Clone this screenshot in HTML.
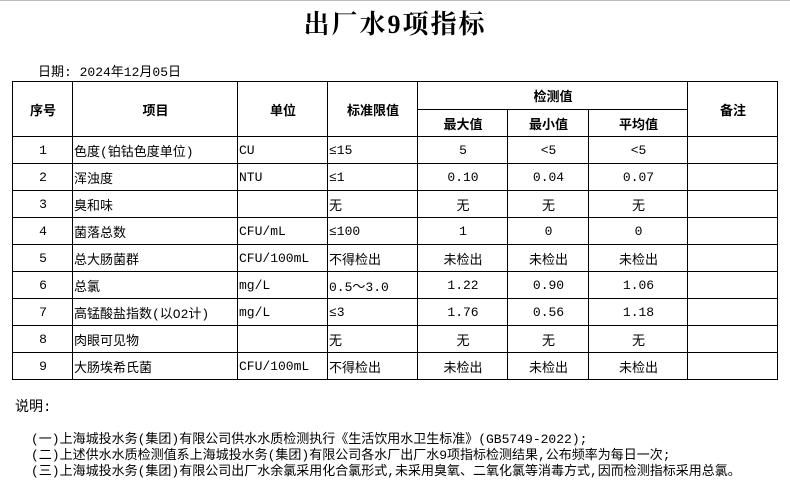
<!DOCTYPE html>
<html><head><meta charset="utf-8"><style>
body{margin:0;width:790px;height:485px;background:#fff;position:relative;overflow:hidden;font-family:"Liberation Mono","Noto Sans CJK SC",monospace;color:#000;}
.top{position:absolute;left:0;top:0;width:790px;height:1px;background:#bbb}
.title{position:absolute;left:0;width:790px;top:4px;text-align:center;font-family:"Liberation Serif","Noto Serif CJK SC",serif;font-size:26px;font-weight:bold;letter-spacing:2px}
.date{position:absolute;left:38px;top:61px;font-size:13px}
table{position:absolute;left:12px;top:81px;border-collapse:collapse;table-layout:fixed;font-size:13px}
td{border:1px solid #000;padding:0 0 0 1px;height:26px;text-align:center;white-space:nowrap;overflow:hidden}
td.l{text-align:left}
tr.h td{font-weight:bold;font-size:13px}
.note{position:absolute;font-size:13px;white-space:nowrap}
</style></head><body>
<div class="top"></div>
<div class="title">出厂水9项指标</div>
<div class="date">日期: 2024年12月05日</div>
<table>
<colgroup><col style="width:60px"><col style="width:165px"><col style="width:90px"><col style="width:90px"><col style="width:90px"><col style="width:81px"><col style="width:99px"><col style="width:90px"></colgroup>
<tr class="h"><td rowspan="2" style="height:53px">序号</td><td rowspan="2">项目</td><td rowspan="2">单位</td><td rowspan="2">标准限值</td><td colspan="3" style="height:27px">检测值</td><td rowspan="2">备注</td></tr>
<tr class="h"><td style="height:25px">最大值</td><td>最小值</td><td>平均值</td></tr>
<tr><td>1</td><td class="l">色度(铂钴色度单位)</td><td class="l">CU</td><td class="l">≤15</td><td>5</td><td>&lt;5</td><td>&lt;5</td><td></td></tr>
<tr><td>2</td><td class="l">浑浊度</td><td class="l">NTU</td><td class="l">≤1</td><td>0.10</td><td>0.04</td><td>0.07</td><td></td></tr>
<tr><td>3</td><td class="l">臭和味</td><td class="l"></td><td class="l">无</td><td>无</td><td>无</td><td>无</td><td></td></tr>
<tr><td>4</td><td class="l">菌落总数</td><td class="l">CFU/mL</td><td class="l">≤100</td><td>1</td><td>0</td><td>0</td><td></td></tr>
<tr><td>5</td><td class="l">总大肠菌群</td><td class="l">CFU/100mL</td><td class="l">不得检出</td><td>未检出</td><td>未检出</td><td>未检出</td><td></td></tr>
<tr><td>6</td><td class="l">总氯</td><td class="l">mg/L</td><td class="l">0.5～3.0</td><td>1.22</td><td>0.90</td><td>1.06</td><td></td></tr>
<tr><td>7</td><td class="l">高锰酸盐指数(以O2计)</td><td class="l">mg/L</td><td class="l">≤3</td><td>1.76</td><td>0.56</td><td>1.18</td><td></td></tr>
<tr><td>8</td><td class="l">肉眼可见物</td><td class="l"></td><td class="l">无</td><td>无</td><td>无</td><td>无</td><td></td></tr>
<tr><td>9</td><td class="l">大肠埃希氏菌</td><td class="l">CFU/100mL</td><td class="l">不得检出</td><td>未检出</td><td>未检出</td><td>未检出</td><td></td></tr>
</table>
<div class="note" style="left:15px;top:396px;font-size:14px">说明:</div>
<div class="note" style="left:31px;top:428px">(一)上海城投水务(集团)有限公司供水水质检测执行《生活饮用水卫生标准》(GB5749-2022);</div>
<div class="note" style="left:31px;top:444px">(二)上述供水水质检测值系上海城投水务(集团)有限公司各水厂出厂水9项指标检测结果,公布频率为每日一次;</div>
<div class="note" style="left:31px;top:460px">(三)上海城投水务(集团)有限公司出厂水余氯采用化合氯形式,未采用臭氧、二氧化氯等消毒方式,因而检测指标采用总氯。</div>
</body></html>
